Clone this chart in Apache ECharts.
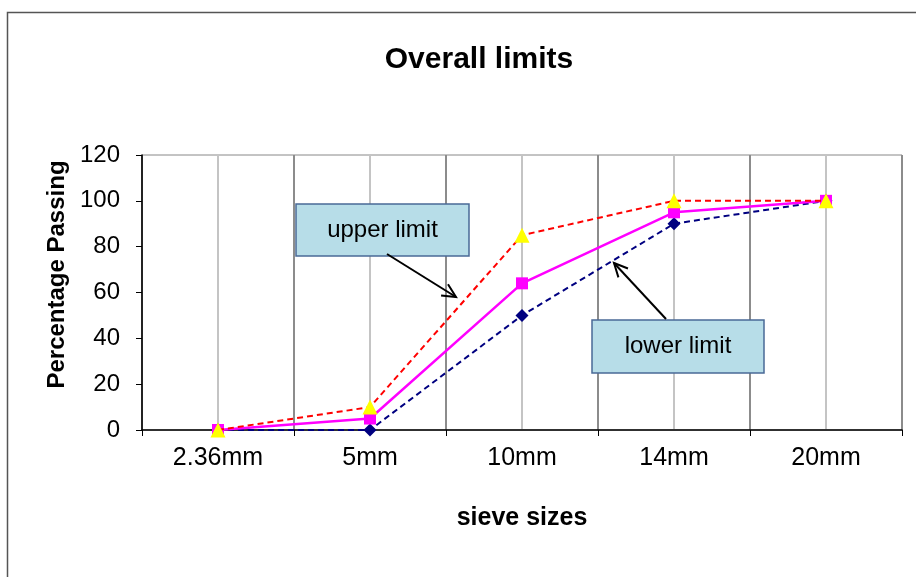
<!DOCTYPE html>
<html><head><meta charset="utf-8">
<script src="https://cdn.jsdelivr.net/npm/echarts@6/dist/echarts.min.js"></script>
<style>html,body{margin:0;padding:0;background:#fff}#c{width:916px;height:577px}</style>
</head><body><div id="c"></div>
<script>
var categories = ['2.36mm', '5mm', '10mm', '14mm', '20mm'];
var lowerLimit = [0, 0, 50, 90, 100];
var actual = [0, 5, 64, 95, 100];
var upperLimit = [0, 10, 85, 100, 100];
var yTicks = [0, 20, 40, 60, 80, 100, 120];

var FONT = '"Liberation Sans", Arial, sans-serif';
var chart = echarts.init(document.getElementById('c'), null, {renderer: 'canvas'});

function arrow(x1, y1, x2, y2) {
  var a = Math.atan2(y2 - y1, x2 - x1), L = 15, w = 0.45;
  return [
    {type: 'line', shape: {x1: x1, y1: y1, x2: x2, y2: y2}, style: {stroke: '#000', lineWidth: 2}, z: 100},
    {type: 'polyline', shape: {points: [
      [x2 - L * Math.cos(a - w), y2 - L * Math.sin(a - w)], [x2, y2],
      [x2 - L * Math.cos(a + w), y2 - L * Math.sin(a + w)]]},
      style: {stroke: '#000', lineWidth: 2, fill: null}, z: 100}
  ];
}
function box(x, y, w, h, txt) {
  return [
    {type: 'rect', shape: {x: x, y: y, width: w, height: h}, style: {fill: '#b7dde8', stroke: '#4a6a96', lineWidth: 1.5}, z: 100},
    {type: 'text', x: x + w / 2, y: y + h / 2, style: {text: txt, fill: '#000', font: '24px ' + FONT, textAlign: 'center', textVerticalAlign: 'middle'}, z: 101}
  ];
}

var option = {
  animation: false,
  backgroundColor: '#fff',
  title: {text: 'Overall limits', left: 474, top: 40, textAlign: 'center',
    textStyle: {fontFamily: FONT, fontSize: 30, fontWeight: 'bold', color: '#000'}},
  grid: {left: 142, top: 155, right: 14, bottom: 147, show: true, borderColor: '#888', borderWidth: 1},
  xAxis: [{
    type: 'category', data: categories, boundaryGap: true,
    name: 'sieve sizes', nameLocation: 'middle', nameGap: 76,
    nameTextStyle: {fontFamily: FONT, fontSize: 25, fontWeight: 'bold', color: '#000'},
    axisLine: {lineStyle: {color: '#000', width: 1.5}},
    axisTick: {show: true, length: 6, lineStyle: {color: '#000'}},
    axisLabel: {fontFamily: FONT, fontSize: 25, color: '#000', margin: 16},
    splitLine: {show: false}, z: 5
  }, {
    type: 'value', min: 0, max: 10, interval: 1, show: true, position: 'top',
    axisLine: {show: false}, axisTick: {show: false}, axisLabel: {show: false},
    splitLine: {show: true, lineStyle: {color: ['#8c8c8c', '#c4c4c4'], width: 2}}
  }],
  yAxis: {
    type: 'value', min: 0, max: 120, interval: 20,
    name: 'Percentage Passing', nameLocation: 'middle', nameGap: 72,
    nameTextStyle: {fontFamily: FONT, fontSize: 24, fontWeight: 'bold', color: '#000', padding: [0, 0, 0, 36]},
    axisLine: {show: true, lineStyle: {color: '#000', width: 1.5}},
    axisTick: {show: true, length: 6, lineStyle: {color: '#000'}},
    axisLabel: {fontFamily: FONT, fontSize: 24, color: '#000', margin: 22,
      formatter: function (v) { return yTicks.indexOf(v) >= 0 ? String(v) : ''; }},
    splitLine: {show: false}
  },
  series: [{
    name: 'lower limit', type: 'line', data: lowerLimit,
    lineStyle: {color: '#000080', width: 2, type: [6, 4]},
    itemStyle: {color: '#000080'}, symbol: 'diamond', symbolSize: 13, z: 10
  }, {
    name: 'actual', type: 'line', data: actual,
    lineStyle: {color: '#ff00ff', width: 2.5},
    itemStyle: {color: '#ff00ff'}, symbol: 'rect', symbolSize: 12, z: 11
  }, {
    name: 'upper limit', type: 'line', data: upperLimit,
    lineStyle: {color: '#ff0000', width: 2, type: [6, 4]},
    itemStyle: {color: '#ffff00'}, symbol: 'triangle', symbolSize: 15, z: 12
  }],
  graphic: [].concat(
    [{type: 'rect', shape: {x: 7.5, y: 12.5, width: 930, height: 600}, style: {fill: null, stroke: '#555', lineWidth: 1.5}, z: 200}],
    box(296, 204, 173, 52, 'upper limit'),
    arrow(387, 254, 456, 297),
    box(592, 320, 172, 53, 'lower limit'),
    arrow(666, 319, 614, 263)
  )
};
chart.setOption(option);
</script></body></html>
